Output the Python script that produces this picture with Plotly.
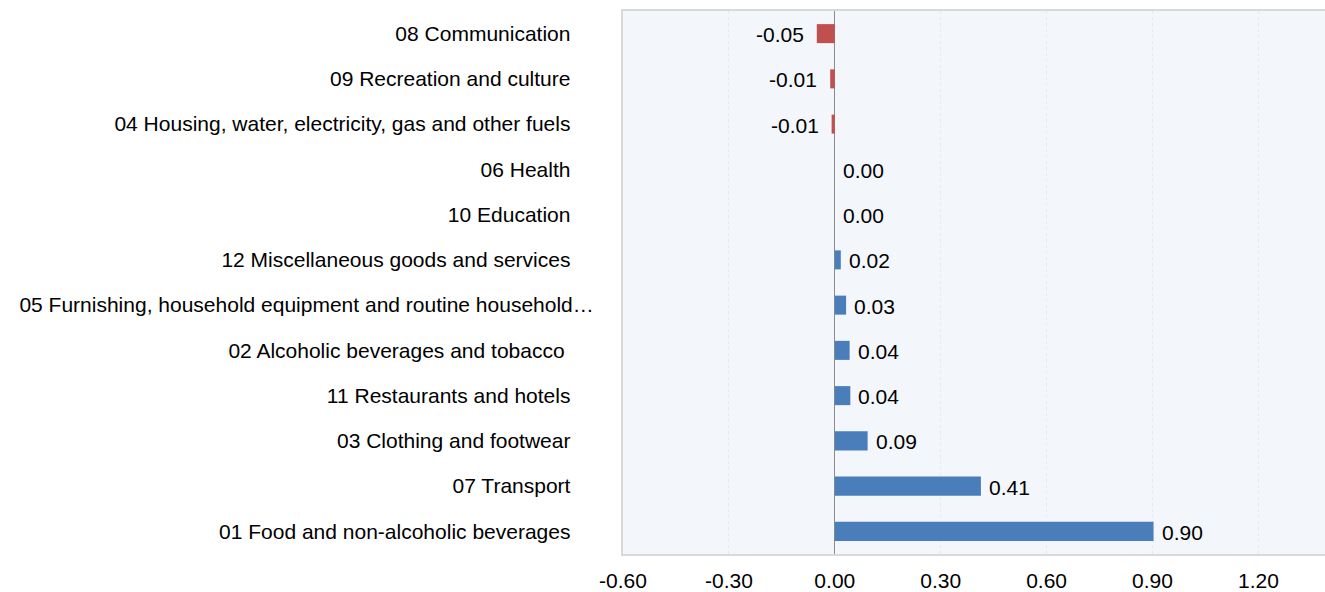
import plotly.graph_objects as go

categories = [
    "08 Communication",
    "09 Recreation and culture",
    "04 Housing, water, electricity, gas and other fuels",
    "06 Health",
    "10 Education",
    "12 Miscellaneous goods and services",
    "05 Furnishing, household equipment and routine household…",
    "02 Alcoholic beverages and tobacco ",
    "11 Restaurants and hotels",
    "03 Clothing and footwear",
    "07 Transport",
    "01 Food and non-alcoholic beverages",
]
values = [-0.051, -0.013, -0.009, 0.0, 0.0, 0.017, 0.032, 0.042, 0.044, 0.093, 0.414, 0.903]
x_ticks = [-0.6, -0.3, 0.0, 0.3, 0.6, 0.9, 1.2]

BLUE = "#4a7ebb"
RED = "#c0504d"
FONT = "Liberation Sans, Arial, sans-serif"
FS = 21

colors = [RED if v < 0 else BLUE for v in values]
tick_text = [c if c.endswith("…") else c + "\u00a0" * 4 for c in categories]

fig = go.Figure()
fig.add_trace(go.Bar(
    x=values, y=categories, orientation="h",
    marker=dict(color=colors, line=dict(width=0)),
    width=0.42, hoverinfo="x+y",
))

for c, v in zip(categories, values):
    neg = v < 0
    fig.add_annotation(
        x=v, y=c, xref="x", yref="y",
        text=f"{v:.2f}", showarrow=False,
        xanchor="right" if neg else "left",
        xshift=-11 if neg else 6, yshift=-1,
        font=dict(family=FONT, size=FS, color="#000"),
    )

fig.update_layout(
    width=1329, height=592,
    margin=dict(l=623, r=0, t=11, b=35, pad=0),
    paper_bgcolor="white", plot_bgcolor="#f3f6fb",
    showlegend=False,
    font=dict(family=FONT, size=FS, color="#000"),
)
fig.update_xaxes(
    range=[-0.6, 1.4], tickvals=x_ticks,
    ticktext=[f"{t:.2f}" for t in x_ticks],
    showgrid=True, gridcolor="#e6e9ee", griddash="dot", gridwidth=1,
    zeroline=True, zerolinecolor="#8c8c8c", zerolinewidth=1,
    showline=True, linecolor="#d9d9d9", linewidth=2, mirror=True,
    ticks="", ticklabelstandoff=7,
    tickfont=dict(family=FONT, size=FS, color="#000"),
)
fig.update_yaxes(
    autorange="reversed", tickvals=categories, ticktext=tick_text,
    showgrid=False, showline=True, linecolor="#d9d9d9", linewidth=2, mirror=False,
    ticks="", ticklabelstandoff=23,
    tickfont=dict(family=FONT, size=FS, color="#000"),
)

fig.write_html(
    "out.html",
    config={"displayModeBar": False},
    post_script=(
        "document.documentElement.style.margin='0';"
        "document.documentElement.style.overflow='hidden';"
        "document.body.style.margin='0';"
        "document.body.style.overflow='hidden';"
    ),
)
